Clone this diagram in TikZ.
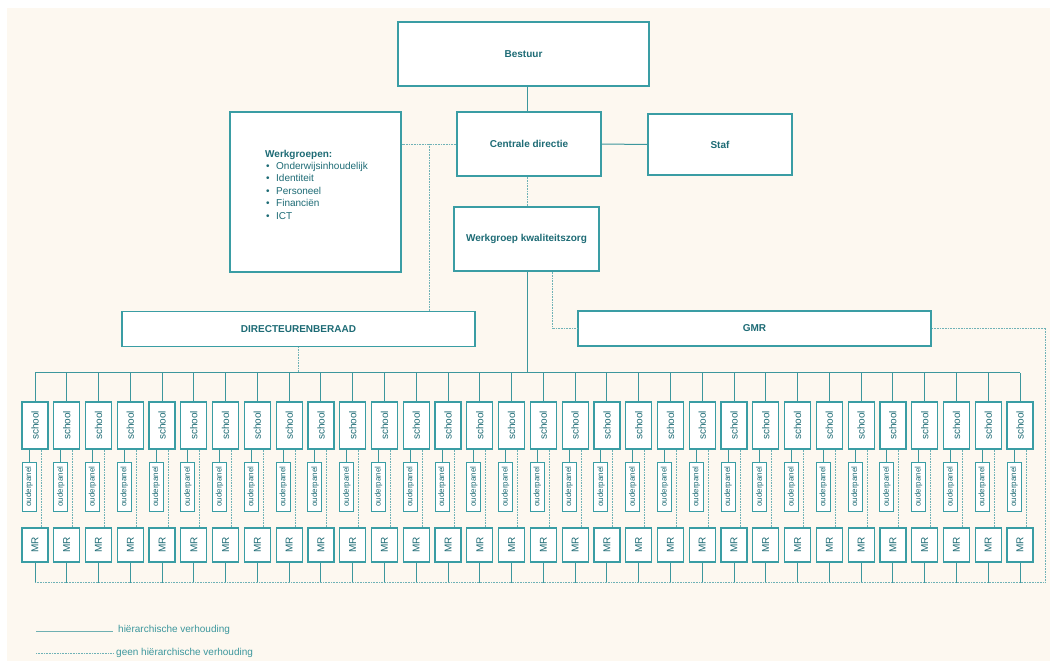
\documentclass[tikz,border=0pt]{standalone}
\usepackage{fontspec}
\setmainfont{Liberation Sans}
\usetikzlibrary{calc}
\definecolor{cream}{HTML}{FDF8F0}
\definecolor{tealbox}{HTML}{3A9DA4}
\definecolor{tealtext}{HTML}{1D6B75}
\definecolor{tealline}{HTML}{3D979D}
\definecolor{teallight}{HTML}{6FB2B6}
\definecolor{teallegend}{HTML}{6FB0B2}
\tikzset{
  box/.style={draw=tealbox, fill=white, line width=1.2pt, inner sep=0pt, text=tealtext, font=\fontsize{10}{12}\selectfont},
  bbox/.style={box, font=\fontsize{10}{12}\selectfont\bfseries},
  txt/.style={inner sep=0pt, text=tealtext, font=\fontsize{10}{12}\selectfont},
  hier/.style={draw=tealline, line width=1pt},
  nonhier/.style={draw=teallight, line width=1pt, dash pattern=on 1pt off 0.6pt},
}
\begin{document}
\begin{tikzpicture}[x=1pt,y=-1pt]
\useasboundingbox (0,0) rectangle (1050,661);
\fill[white] (0,0) rectangle (1050,661);
\fill[cream] (7,8) rectangle (1050,661);

% top boxes
\node[bbox, minimum width=251pt, minimum height=64pt] (b) at (523.5,54) {Bestuur};
\node[bbox, minimum width=144pt, minimum height=64pt] (cd) at (529,144) {Centrale directie};
\node[bbox, minimum width=144pt, minimum height=61pt] (staf) at (720,144.5) {Staf};
\node[box, minimum width=171pt, minimum height=160pt] (wg) at (315.5,192) {};
\node[txt, anchor=base west, font=\fontsize{10}{12}\selectfont\bfseries] (wgt) at (265,157) {Werkgroepen:};
\foreach \t [count=\k] in {Onderwijsinhoudelijk, Identiteit, Personeel, Financiën, ICT} {
  \node[txt, anchor=base west] (wl\k) at (266,157+12.4*\k) {\makebox[10pt][l]{\textbullet}\t};
}
\node[bbox, minimum width=145pt, minimum height=64pt] (wk) at (526.5,239) {Werkgroep kwaliteitszorg};
\node[bbox, minimum width=353pt, minimum height=35pt] (db) at (298.5,329) {DIRECTEURENBERAAD};
\node[bbox, minimum width=353pt, minimum height=35pt] (gmr) at (754.5,328.5) {GMR};

\coordinate (tx) at (527,0);
\coordinate (bus) at (0,372.5);
\coordinate (bot) at (0,582.5);
\coordinate (rc) at (1045,582.5);
\coordinate (wj) at (429,144);

% schools
\foreach \i in {0,...,31} {
  \pgfmathsetmacro\x{35+\i*31.774}
  \node[box, minimum width=26pt, minimum height=47pt] (s\i) at (\x,425.5) {\rotatebox{90}{school}};
  \node[box, line width=1pt, minimum width=14pt, minimum height=49pt, font=\fontsize{8}{9}\selectfont] (o\i) at (\x-6,486.5) {\rotatebox{90}{ouderpanel}};
  \node[box, minimum width=26pt, minimum height=34pt] (m\i) at (\x,545) {\rotatebox{90}{MR}};
  \draw[hier] (s\i.north) -- (s\i.north |- bus);
  \draw[hier] (o\i.north |- s\i.south) -- (o\i.north);
  \draw[nonhier] ([xshift=6pt]s\i.south) -- ([xshift=6pt]m\i.north);
  \draw[hier] (m\i.south) -- (m\i.south |- bot);
}
\draw[hier] (s0.north |- bus) -- (s31.north |- bus);
\draw[nonhier] (m0.south |- bot) -- (rc) |- (gmr.east);

% upper connectors
\draw[hier] (b.south -| tx) -- (cd.north -| tx);
\draw[nonhier] (cd.south -| tx) -- (wk.north -| tx);
\draw[hier] (wk.south -| tx) -- (bus -| tx);
\draw[hier] (cd.east) -- (staf.west);
\draw[nonhier] (cd.west) -- (cd.west -| wg.east);
\draw[nonhier] (wj) -- (wj |- db.north);
\draw[nonhier] ([xshift=25.5pt]wk.south) |- (gmr.west);
\draw[nonhier] (db.south) -- (db.south |- bus);

% legend
\coordinate (la) at (36,631);
\coordinate (lb) at (113,631);
\coordinate (lc) at (36,653);
\coordinate (ld) at (113,653);
\draw[draw=teallegend, line width=1pt] (la) -- (lb);
\draw[nonhier] (lc) -- (ld);
\node[txt, anchor=west, text=tealline] (lt1) at (118,630) {hiërarchische verhouding};
\node[txt, anchor=west, text=tealline] (lt2) at (116,653) {geen hiërarchische verhouding};
\end{tikzpicture}
\end{document}
